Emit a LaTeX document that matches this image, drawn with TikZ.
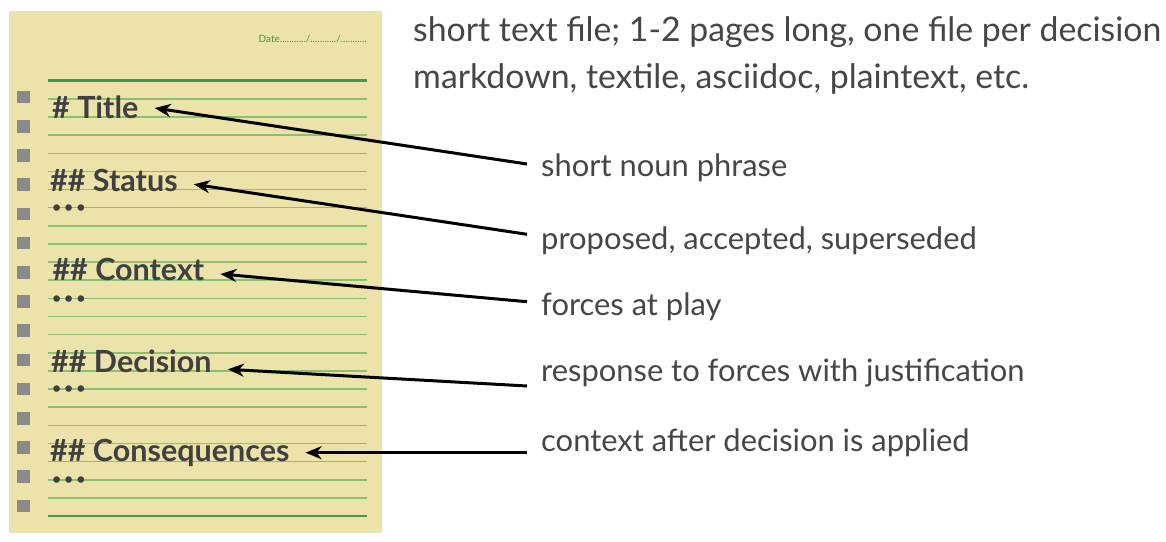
\documentclass[tikz,border=0pt]{standalone}
\usepackage{fontspec}
\setmainfont{Lato}
\usetikzlibrary{arrows.meta}
\definecolor{paper}{RGB}{236,227,170}
\definecolor{rulethin}{RGB}{140,190,115}
\definecolor{rulebold}{RGB}{70,150,80}
\definecolor{hole}{RGB}{138,138,138}
\definecolor{ink}{RGB}{64,64,64}
\definecolor{txt}{RGB}{70,70,70}
\newcommand{\tridots}{•\kern3.4pt•\kern3.4pt•}
\begin{document}
\begin{tikzpicture}[x=1pt,y=-1pt,
  heading/.style={font=\fontsize{30.5}{30.5}\selectfont\bfseries, text=ink, anchor=base west,
    inner xsep=16pt, inner ysep=0pt, text height=20pt, text depth=0pt},
  label/.style={font=\fontsize{30.9}{30.9}\selectfont, text=txt, anchor=base west,
    inner xsep=14pt, inner ysep=0pt, text height=14pt, text depth=0pt},
  toptext/.style={font=\fontsize{33.8}{33.8}\selectfont, text=txt, anchor=base west, inner sep=0pt},
  dots/.style={font=\fontsize{15}{15}\selectfont\bfseries, text=ink, anchor=base west, inner sep=0pt},
  arr/.style={draw=black, line width=3pt, -{Stealth[length=16pt,width=13pt,inset=5pt]}},
  thinrule/.style={draw=rulethin, line width=1.5pt},
  boldrule/.style={draw=rulebold, line width=2.6pt},
  holebox/.style={fill=hole}]
\useasboundingbox (0,0) rectangle (1166,541);
\fill[white] (0,0) rectangle (1166,541);
% paper
\fill[paper] (9,11) rectangle (382,533);
% rules
\foreach \k in {1,...,23} {
  \draw[thinrule] (48,{80.7+18.14*\k}) -- (367,{80.7+18.14*\k});
}
\draw[boldrule] (48,80.7) -- (367,80.7);
\draw[boldrule] (48,{80.7+18.14*24}) -- (367,{80.7+18.14*24});
% punched holes
\foreach \k in {0,...,14} {
  \fill[holebox] (17.2,{97+29.2*\k-6.3}) rectangle (29.8,{97+29.2*\k+6.3});
}
% date
\node[font=\fontsize{10}{10}\selectfont, text=rulebold, anchor=base east, inner sep=0pt]
  (date) at (367,42.7) {Date.........../.........../...........};
% headings
\node[heading] (title) at (36,118) {\# Title};
\node[heading] (status) at (34,191) {\#\# Status};
\node[heading] (context) at (36.3,280) {\#\# Context};
\node[heading] (decision) at (35,372.7) {\#\# Decision};
\node[heading] (conseq) at (34,461) {\#\# Consequences};
% ellipses
\node[dots] (d1) at (52.2,212.5) {\tridots};
\node[dots] (d2) at (52.2,303.2) {\tridots};
\node[dots] (d3) at (52.2,393.9) {\tridots};
\node[dots] (d4) at (52.2,484.6) {\tridots};
% top text
\node[toptext] (top1) at (413,41.7) {short text file; 1-2 pages long, one file per decision};
\node[toptext] (top2) at (413,88.3) {markdown, textile, asciidoc, plaintext, etc.};
% labels
\node[label] (l1) at (527,176) {short noun phrase};
\node[label] (l2) at (527,249.5) {proposed, accepted, superseded};
\node[label] (l3) at (527,315) {forces at play};
\node[label] (l4) at (527,381.7) {response to forces with justification};
\node[label] (l5) at (527,451.7) {context after decision is applied};
% arrows
\draw[arr] ([yshift=5pt]l1.west) -- (title.east);
\draw[arr] ([yshift=8.2pt]l2.west) -- ([yshift=-3.3pt]status.east);
\draw[arr] ([yshift=6.3pt]l3.west) -- ([yshift=-4pt]context.east);
\draw[arr] ([yshift=-11.3pt]l4.west) -- ([yshift=-6.6pt]decision.east);
\draw[arr] ([yshift=-8pt]l5.west) -- ([yshift=-1.7pt]conseq.east);
\end{tikzpicture}
\end{document}
